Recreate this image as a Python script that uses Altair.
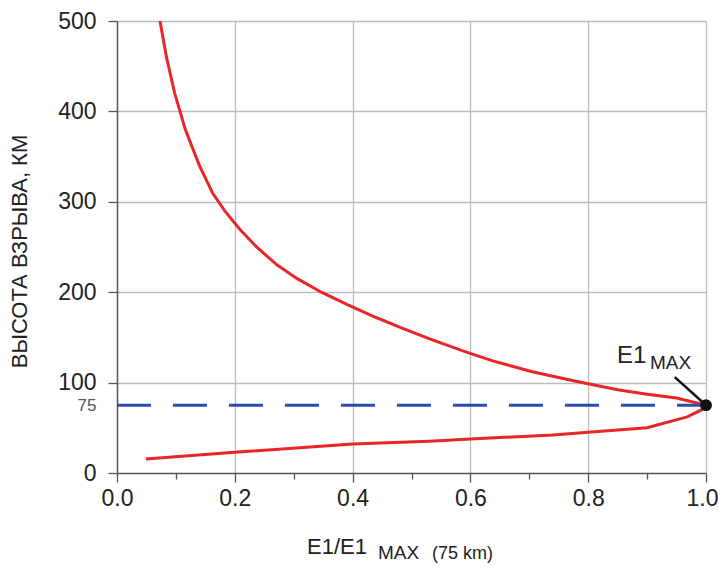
import altair as alt
import pandas as pd

# Curve: lower branch (rising to the maximum) then upper branch
lower_x = [0.049, 0.2, 0.4, 0.53, 0.6, 0.74, 0.8, 0.9, 0.968, 0.993, 1.0]
lower_y = [15.5, 23, 32, 35, 37.6, 42, 45, 50, 62, 70, 75]
upper_x = [0.950, 0.900, 0.850, 0.775, 0.705, 0.638, 0.592, 0.532, 0.485, 0.440, 0.392, 0.347, 0.306, 0.272, 0.237, 0.208, 0.183, 0.162, 0.140, 0.116, 0.098, 0.084, 0.073]
upper_y = [83, 87, 92, 102, 112, 124, 134, 148, 160, 172, 186, 200, 215, 230, 250, 270, 290, 310, 340, 380, 420, 460, 500]

ref_height = [75]
peak_x = [1.0]
peak_y = [75]
leader_x = [0.947]
leader_y = [106]

x_ticks = [0.0, 0.1, 0.2, 0.3, 0.4, 0.5, 0.6, 0.7, 0.8, 0.9, 1.0]
y_ticks = [0, 75, 100, 200, 300, 400, 500]

xs = lower_x + upper_x
ys = lower_y + upper_y
curve = pd.DataFrame({"x": xs, "y": ys, "o": list(range(len(xs)))})

FONT = "Liberation Sans"
even = "round(datum.value*10) % 2 == 0"
is75 = "datum.value == 75"

xscale = alt.Scale(domain=[0, 1], nice=False)
yscale = alt.Scale(domain=[0, 500], nice=False)

xaxis = alt.Axis(
    values=x_ticks, format=".1f",
    labelExpr=f"{even} ? datum.label : ''",
    grid=True,
    gridOpacity={"condition": {"test": f"{even} && datum.value > 0", "value": 1}, "value": 0},
    gridColor="#b9bdc3", gridWidth=1.3,
    tickSize={"condition": {"test": even, "value": 9}, "value": 6},
    tickColor="#555555", tickWidth=1.3,
    domainColor="#555555", domainWidth=1.5,
    labelFont=FONT, labelFontSize=23, labelColor="#222222", labelPadding=5,
    labelOffset={"condition": {"test": "datum.value == 1", "value": -4}, "value": 0},
    labelFlush=False, title=None,
)
yaxis = alt.Axis(
    values=y_ticks, format="d",
    grid=True,
    gridOpacity={"condition": {"test": f"{is75} || datum.value == 0", "value": 0}, "value": 1},
    gridColor="#b9bdc3", gridWidth=1.3,
    tickSize=9, tickColor="#555555", tickWidth=1.3,
    tickOpacity={"condition": {"test": is75, "value": 0}, "value": 1},
    domainColor="#555555", domainWidth=1.5,
    labelFont=FONT,
    labelFontSize={"condition": {"test": is75, "value": 17}, "value": 23},
    labelColor={"condition": {"test": is75, "value": "#555555"}, "value": "#222222"},
    labelPadding=12, labelFlush=False,
    title="ВЫСОТА ВЗРЫВА, КМ",
    titleFont=FONT, titleFontSize=22, titleFontWeight="normal", titleColor="#222222",
    titleX=-98, titleY=230, titleAlign="center", titleBaseline="middle",
)

line = alt.Chart(curve).mark_line(color="#e8262a", strokeWidth=3).encode(
    x=alt.X("x:Q", scale=xscale, axis=xaxis),
    y=alt.Y("y:Q", scale=yscale, axis=yaxis),
    order="o:Q",
)

ref = alt.Chart(pd.DataFrame({"y": ref_height, "x0": [0.0], "x1": [1.0]})).mark_rule(
    color="#2b4ba8", strokeWidth=3, strokeDash=[34, 22]
).encode(x="x0:Q", x2="x1:Q", y="y:Q")

leader = alt.Chart(pd.DataFrame({"x": leader_x, "y": leader_y, "x2": peak_x, "y2": peak_y})).mark_rule(
    color="#111111", strokeWidth=2.5
).encode(x="x:Q", y="y:Q", x2="x2:Q", y2="y2:Q")

peak = alt.Chart(pd.DataFrame({"x": peak_x, "y": peak_y})).mark_point(
    filled=True, color="#111111", size=140, opacity=1
).encode(x="x:Q", y="y:Q")

lab_e1 = alt.Chart(pd.DataFrame({"x": [0.849], "y": [122], "t": ["E1"]})).mark_text(
    font=FONT, fontSize=24, color="#222222", align="left", baseline="alphabetic"
).encode(x="x:Q", y="y:Q", text="t:N")
lab_max = alt.Chart(pd.DataFrame({"x": [0.905], "y": [115], "t": ["MAX"]})).mark_text(
    font=FONT, fontSize=19, color="#222222", align="left", baseline="alphabetic"
).encode(x="x:Q", y="y:Q", text="t:N")

xt1 = alt.Chart(pd.DataFrame({"t": ["E1/E1"]})).mark_text(
    font=FONT, fontSize=22, color="#222222", align="left", baseline="alphabetic"
).encode(x=alt.value(190), y=alt.value(533), text="t:N")
xt2 = alt.Chart(pd.DataFrame({"t": ["MAX"]})).mark_text(
    font=FONT, fontSize=19, color="#222222", align="left", baseline="alphabetic"
).encode(x=alt.value(261), y=alt.value(538), text="t:N")
xt3 = alt.Chart(pd.DataFrame({"t": ["(75 km)"]})).mark_text(
    font=FONT, fontSize=18, color="#222222", align="left", baseline="alphabetic"
).encode(x=alt.value(315), y=alt.value(538), text="t:N")

chart = alt.layer(line, ref, leader, peak, lab_e1, lab_max, xt1, xt2, xt3).properties(
    width=589, height=452,
    autosize=alt.AutoSizeParams(type="none"),
    padding={"left": 109, "top": 13, "right": 12, "bottom": 91},
    background="white",
).configure_view(stroke=None)

chart.save("out.html", embed_options={"renderer": "svg", "actions": False})
